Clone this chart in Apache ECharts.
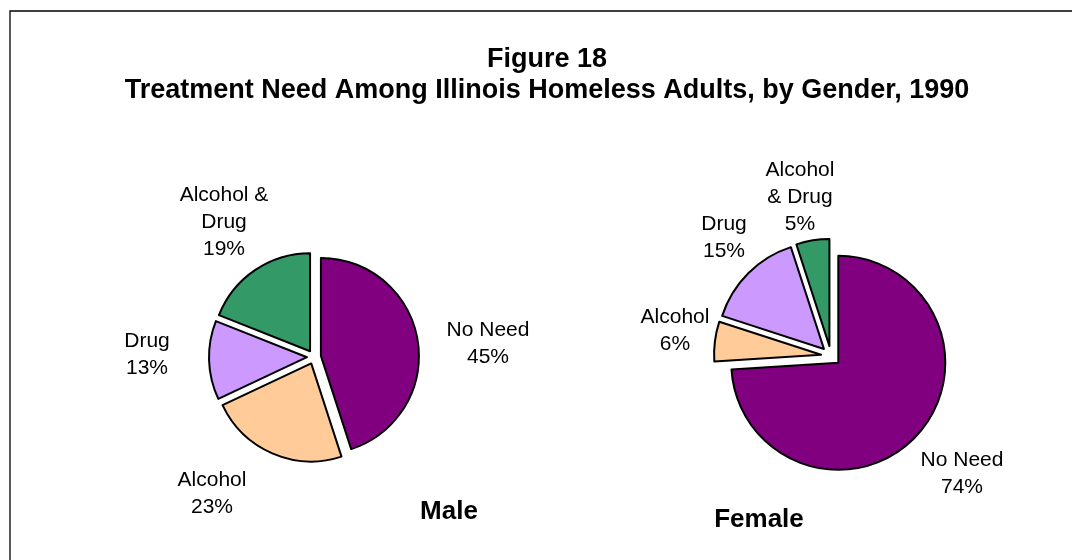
<!DOCTYPE html>
<html>
<head>
<meta charset="utf-8">
<script src="https://cdn.jsdelivr.net/npm/echarts@6/dist/echarts.min.js"></script>
<style>
  html, body { margin: 0; padding: 0; background: #fff; }
  #chart { width: 1072px; height: 560px; }
</style>
</head>
<body>
<div id="chart"></div>
<script>
// Treatment need categories (clockwise from 12 o'clock)
const categories = ['No Need', 'Alcohol', 'Drug', 'Alcohol & Drug'];
// Label text per pie (line breaks differ between the two pies)
const maleLabels = ['No Need', 'Alcohol', 'Drug', 'Alcohol &\nDrug'];
const femaleLabels = ['No Need', 'Alcohol', 'Drug', 'Alcohol\n& Drug'];
// Percent of homeless adults in each category
const maleValues = [45, 23, 13, 19];
const femaleValues = [74, 6, 15, 5];

const titleText = 'Figure 18';
const subtitleText = 'Treatment Need Among Illinois Homeless Adults, by Gender, 1990';

const sliceColors = ['#800080', '#FFCC99', '#CC99FF', '#339966'];
const FONT = '"Liberation Sans", Arial, sans-serif';

// Label text centres for each pie
const maleLabelPos = [[488, 344], [212, 494], [147, 355], [224, 222]];
const femaleLabelPos = [[962, 474], [675, 331], [724, 238], [800, 197]];

function buildData(values) {
  return values.map((v, i) => ({
    name: categories[i],
    value: v,
    selected: true,
    itemStyle: { color: sliceColors[i] }
  }));
}

function pieSeries(values, center, radius, offset) {
  return {
    type: 'pie',
    center: center,
    radius: radius,
    startAngle: 90,
    clockwise: true,
    selectedMode: 'multiple',
    selectedOffset: offset,
    animation: false,
    silent: true,
    emphasis: { disabled: true, scale: false },
    itemStyle: { borderColor: '#000', borderWidth: 2 },
    select: { itemStyle: { borderColor: '#000', borderWidth: 2 } },
    label: { show: false },
    labelLine: { show: false },
    data: buildData(values)
  };
}

// Slice labels: category text plus the slice's percentage
function sliceLabels(values, labels, positions) {
  return values.map((v, i) => ({
    type: 'text',
    x: positions[i][0],
    y: positions[i][1],
    silent: true,
    style: {
      text: labels[i] + '\n' + v + '%',
      font: '21px ' + FONT,
      lineHeight: 27,
      fill: '#000',
      align: 'center',
      verticalAlign: 'middle'
    }
  }));
}

const chart = echarts.init(document.getElementById('chart'), null, { renderer: 'canvas' });
chart.setOption({
  backgroundColor: '#fff',
  animation: false,
  graphic: [
    { type: 'rect', shape: { x: 10, y: 11, width: 2000, height: 2000 },
      style: { fill: 'none', stroke: '#000', lineWidth: 1.3 }, silent: true },
    { type: 'text', x: 547, y: 60,
      style: { text: titleText, font: 'bold 27px ' + FONT, fill: '#000', align: 'center', verticalAlign: 'middle' } },
    { type: 'text', x: 547, y: 91,
      style: { text: subtitleText, font: 'bold 27px ' + FONT, fill: '#000', align: 'center', verticalAlign: 'middle' } },
    { type: 'text', x: 449, y: 512,
      style: { text: 'Male', font: 'bold 26px ' + FONT, fill: '#000', align: 'center', verticalAlign: 'middle' } },
    { type: 'text', x: 759, y: 520,
      style: { text: 'Female', font: 'bold 26px ' + FONT, fill: '#000', align: 'center', verticalAlign: 'middle' } }
  ].concat(
    sliceLabels(maleValues, maleLabels, maleLabelPos),
    sliceLabels(femaleValues, femaleLabels, femaleLabelPos)
  ),
  series: [
    pieSeries(maleValues, [314, 357], 98, 7),
    pieSeries(femaleValues, [831, 356], 107, 10)
  ]
});
</script>
</body>
</html>
